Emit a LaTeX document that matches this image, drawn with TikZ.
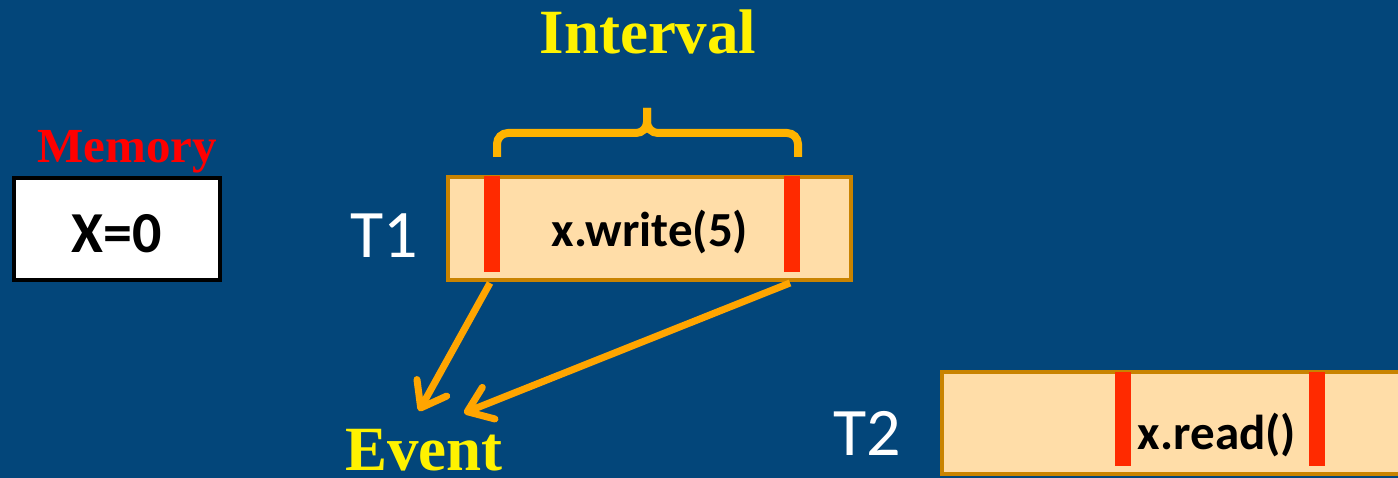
\documentclass[tikz,border=0pt]{standalone}
\usepackage{fontspec}
\setmainfont{Liberation Serif}
\newfontfamily\humanist{Carlito}
\usetikzlibrary{arrows.meta}
\definecolor{slidebg}{RGB}{3,70,122}
\definecolor{opfill}{RGB}{255,221,168}
\definecolor{opdraw}{RGB}{201,131,0}
\definecolor{mark}{RGB}{255,42,0}
\definecolor{bracecol}{RGB}{255,179,0}
\definecolor{arrowcol}{RGB}{255,165,0}
\tikzset{
  optbox/.style={draw=opdraw, fill=opfill, line width=4pt, inner sep=0pt},
  markbar/.style={fill=mark, draw=none, inner sep=0pt, minimum width=16pt, minimum height=96pt},
  evarrow/.style={draw=arrowcol, line width=7pt,
    -{Straight Barb[length=23pt, width=34pt, round]}},
  bracepath/.style={draw=bracecol, line width=8pt, rounded corners=11pt},
  headline/.style={text=yellow, font=\bfseries\fontsize{63}{70}\selectfont, anchor=base, inner sep=0pt},
  threadlabel/.style={text=white, font=\humanist\fontsize{68}{72}\selectfont, anchor=base, inner sep=0pt},
  optext/.style={text=black, font=\humanist\bfseries\fontsize{49}{52}\selectfont, anchor=base, inner sep=0pt}
}
\begin{document}
\begin{tikzpicture}[x=1pt, y=-1pt]
  \useasboundingbox (0,0) rectangle (1398,478);
  \clip (0,0) rectangle (1398,478);
  \fill[slidebg] (0,0) rectangle (1398,478);

  % memory cell
  \node[headline, text=red, font=\bfseries\fontsize{49}{54}\selectfont] (memlabel) at (127,163) {Memory};
  \node[draw=black, fill=white, line width=4.5pt, minimum width=206pt, minimum height=102pt, inner sep=0pt]
    (membox) at (117,229) {};
  \node[optext, font=\humanist\bfseries\fontsize{58}{62}\selectfont] (memval) at (117,253) {X=0};

  % thread T1: the write operation
  \node[optbox, minimum width=403pt, minimum height=103pt] (t1box) at (649.5,228.5) {};
  \node[markbar] (t1start) at (492,224) {};
  \node[markbar] (t1end) at (792,224) {};
  \node[optext] (t1op) at (650,247) {x.write(5)};
  \node[threadlabel] (t1label) at (384,258) {T1};

  % interval brace over the write
  \coordinate (brL) at (497,157);
  \coordinate (brR) at (798,157);
  \coordinate (brTip) at (647,108);
  \draw[bracepath] (brL) -- (497,133) -- (647,133) -- (brTip);
  \draw[bracepath] (brR) -- (798,133) -- (647,133) -- (brTip);
  \node[headline] (interval) at (648,54) {Interval};

  % events at the ends of the interval
  \coordinate (ev1) at (419,411);
  \coordinate (ev2) at (464,413);
  \coordinate (t1a) at (490,283);
  \coordinate (t1b) at (790,283);
  \draw[evarrow] (t1a) -- (ev1);
  \draw[evarrow] (t1b) -- (ev2);
  \node[headline] (event) at (424,470) {Event};

  % thread T2: the read operation
  \node[optbox, minimum width=500pt, minimum height=102pt] (t2box) at (1192,423) {};
  \node[markbar, minimum height=94pt] (t2start) at (1123,419) {};
  \node[markbar, minimum height=94pt] (t2end) at (1317,419) {};
  \node[optext] (t2op) at (1217,449) {x.read()};
  \node[threadlabel] (t2label) at (867,455) {T2};
\end{tikzpicture}
\end{document}
